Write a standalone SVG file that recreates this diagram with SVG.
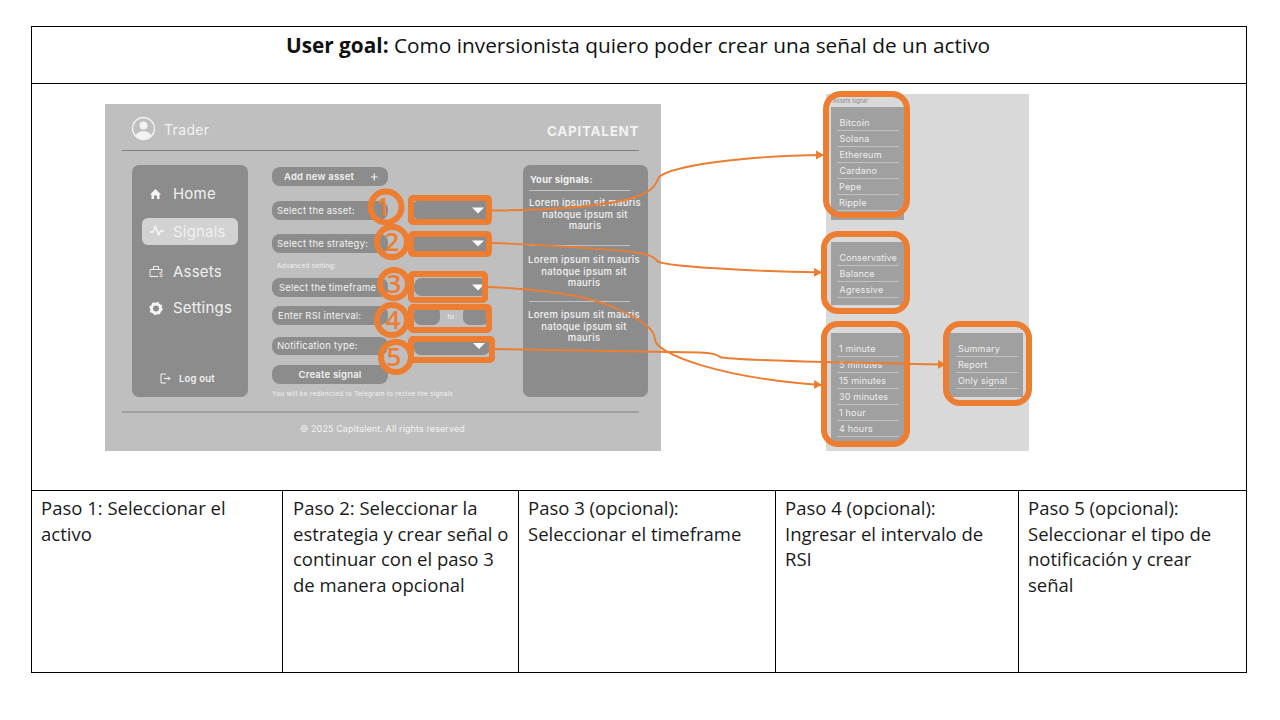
<svg xmlns="http://www.w3.org/2000/svg" width="1280" height="720" viewBox="0 0 1280 720">
<defs>
<style>
.tb{font-family:"Open Sans","Noto Sans",sans-serif;font-size:18.500px;fill:#1a1a1a}
.ui{font-family:"Inter","Liberation Sans",sans-serif;fill:#f2f2f2;letter-spacing:.2px}
.s{font-size:9.5px}
.n{font-size:15px;fill:#f0f0f0;letter-spacing:.2px}
.b{font-weight:600}
.li{font-size:9px;fill:#eeeeee;letter-spacing:.2px}
.lo{font-size:9.5px;font-weight:500;text-anchor:middle;letter-spacing:.3px}
.g{fill:#8c8c8c}
.gl{fill:#a0a0a0}
.ln{stroke:#c2c2c2;stroke-width:1;fill:none}
.hl{fill:none;stroke:#ed7d31;stroke-width:6}
.num{font-family:"Open Sans",sans-serif;font-size:26px;font-weight:600;fill:#ed7d31;text-anchor:middle}
.con{fill:none;stroke:#ed7d31;stroke-width:1.900}
.grid{stroke:#000;stroke-width:1;fill:none}
</style>
<marker id="ah" markerUnits="userSpaceOnUse" markerWidth="9" markerHeight="10" refX="7" refY="5" orient="auto"><path d="M0 0.500L8 5L0 9.500Z" fill="#ed7d31"/></marker>
</defs>
<rect width="1280" height="720" fill="#fff"/>

<g id="table">
<path class="grid" d="M31 26.500H1247M31 83.500H1247M31 490.500H1247M31 672.500H1247M31.500 26V673M1246.500 26V673M282.500 490V673M518.500 490V673M775.500 490V673M1018.500 490V673"/>
<text x="638" y="53" text-anchor="middle" style="font-family:'Open Sans','Noto Sans',sans-serif;font-size:20.800px;fill:#111"><tspan font-weight="700">User goal:</tspan> Como inversionista quiero poder crear una señal de un activo</text>
<text class="tb" x="41" y="515">Paso 1: Seleccionar el</text><text class="tb" x="41" y="541">activo</text>
<text class="tb" x="293" y="515">Paso 2: Seleccionar la</text><text class="tb" x="293" y="541">estrategia y crear señal o</text><text class="tb" x="293" y="566">continuar con el paso 3</text><text class="tb" x="293" y="592">de manera opcional</text>
<text class="tb" x="528" y="515">Paso 3 (opcional):</text><text class="tb" x="528" y="541">Seleccionar el timeframe</text>
<text class="tb" x="785" y="515">Paso 4 (opcional):</text><text class="tb" x="785" y="541">Ingresar el intervalo de</text><text class="tb" x="785" y="566">RSI</text>
<text class="tb" x="1028" y="515">Paso 5 (opcional):</text><text class="tb" x="1028" y="541">Seleccionar el tipo de</text><text class="tb" x="1028" y="566">notificación y crear</text><text class="tb" x="1028" y="592">señal</text>
</g>

<g id="app-screen">
<rect x="105" y="104" width="556" height="347" fill="#bfbfbf"/>
<path d="M122 150.500H639M122 412H639" stroke="#808080" stroke-width="1"/>
<circle cx="143.500" cy="128.500" r="11" fill="none" stroke="#f2f2f2" stroke-width="1.300"/>
<circle cx="143.500" cy="125.500" r="4" fill="#f2f2f2"/><path d="M135.500 136a8.500 7 0 0 1 16 0a11 11 0 0 1-16 0Z" fill="#f2f2f2"/>
<text class="ui" x="164" y="135" font-size="14" fill="#eaeaea" style="letter-spacing:.35px">Trader</text>
<text class="ui" x="547" y="136" font-size="13.500" style="font-weight:700;letter-spacing:.7px">CAPITALENT</text>

<rect class="g" x="132" y="165" width="116" height="232" rx="7"/>
<rect x="142" y="218" width="96" height="27" rx="6" fill="#d2d2d2"/>
<path d="M150 194.500L155.500 189L161 194.500H159.500V199H157V195.500H154V199H151.500V194.500Z" fill="#f5f5f5"/>
<path d="M150 232H153L155.500 226.500L158.500 235L160.500 231H164" fill="none" stroke="#f5f5f5" stroke-width="1.500"/>
<path d="M158 276.500H150V269.500H162V272M153.500 269.500V266.500H158.500V269.500" fill="none" stroke="#eeeeee" stroke-width="1"/>
<text class="ui" x="159" y="277" font-size="6">$</text>
<circle cx="156" cy="308.500" r="4.500" fill="none" stroke="#f5f5f5" stroke-width="3"/>
<circle cx="156" cy="308.500" r="6" fill="none" stroke="#f5f5f5" stroke-width="1.500" stroke-dasharray="2 2.700"/>
<text class="ui n" x="173" y="199">Home</text><text class="ui n" x="173" y="237" fill="#fff">Signals</text><text class="ui n" x="173" y="276.500">Assets</text><text class="ui n" x="173" y="313">Settings</text>
<path d="M166 374H161V383H166M164 378.500H170M168 376.500L170 378.500L168 380.500" fill="none" stroke="#f5f5f5" stroke-width="1"/>
<text class="ui s b" x="179" y="382">Log out</text>

<rect class="g" x="272" y="167" width="116" height="19" rx="8"/>
<text class="ui s b" x="284" y="180">Add new asset</text><path d="M371 177H377.500M374.250 173.500V180.500" stroke="#f2f2f2" stroke-width="1.200"/>
<rect class="g" x="272" y="201" width="116" height="19" rx="8"/><text class="ui s" x="277" y="213.500">Select the asset:</text>
<rect class="g" x="272" y="234" width="116" height="19" rx="8"/><text class="ui s" x="277" y="246.500">Select the strategy:</text>
<text class="ui" x="277" y="268" font-size="6.500">Advanced setting:</text>
<rect class="g" x="272" y="278" width="116" height="19" rx="8"/><text class="ui s" x="279" y="291">Select the timeframe</text>
<rect class="g" x="272" y="306" width="116" height="19" rx="8"/><text class="ui s" x="278" y="319">Enter RSI interval:</text>
<rect class="g" x="272" y="337" width="116" height="18" rx="8"/><text class="ui s" x="277" y="349">Notification type:</text>
<rect class="g" x="272" y="365" width="116" height="19" rx="8"/><text class="ui s b" x="330" y="378" text-anchor="middle">Create signal</text>
<text class="ui" x="272" y="396" font-size="6.500" style="letter-spacing:.24px">You will be redirected to Telegram to recive the signals</text>

<rect class="g" x="414" y="201" width="74" height="18" rx="3"/><path d="M472 207.500H484L478 213.500Z" fill="#fff"/>
<rect class="g" x="414" y="234" width="74" height="18" rx="3"/><path d="M472 240.500H484L478 246.500Z" fill="#fff"/>
<rect class="g" x="414" y="278" width="74" height="18" rx="8"/><path d="M472 284.500H484L478 290.500Z" fill="#fff"/>
<rect class="g" x="414" y="306" width="26" height="19" rx="7"/><rect class="g" x="463" y="306" width="26" height="19" rx="7"/>
<text class="ui" x="451" y="319" font-size="7" text-anchor="middle">to</text>
<rect class="g" x="414" y="337" width="76" height="18" rx="7"/><path d="M473 343H485L479 349Z" fill="#fff"/>

<rect class="g" x="523" y="165" width="125" height="232" rx="7"/>
<text class="ui s" x="530" y="183" style="font-weight:700">Your signals:</text>
<path class="ln" d="M529 190.500H630M529 245.500H630M529 301.500H630"/>
<text class="ui lo" x="585" y="206">Lorem ipsum sit mauris</text><text class="ui lo" x="585" y="217.500">natoque ipsum sit</text><text class="ui lo" x="585" y="229">mauris</text>
<text class="ui lo" x="584" y="263">Lorem ipsum sit mauris</text><text class="ui lo" x="584" y="274.500">natoque ipsum sit</text><text class="ui lo" x="584" y="286">mauris</text>
<text class="ui lo" x="584" y="318">Lorem ipsum sit mauris</text><text class="ui lo" x="584" y="329.500">natoque ipsum sit</text><text class="ui lo" x="584" y="341">mauris</text>
<text class="ui" x="382.500" y="432" font-size="9" text-anchor="middle" fill="#eeeeee" style="letter-spacing:.1px">© 2025 Capitalent. All rights reserved</text>
</g>

<g id="dropdown-panel">
<rect x="826" y="94" width="203" height="357" fill="#d9d9d9"/>
<text x="833" y="102.500" font-size="5.500" fill="#8c8c8c" style="font-family:Inter,sans-serif">Assets signal</text>
<rect class="gl" x="831" y="107" width="73" height="113"/>
<rect class="gl" x="831" y="242" width="73" height="63"/>
<rect class="gl" x="831" y="333" width="73" height="109"/>
<rect class="gl" x="949" y="333" width="74" height="64"/>
<path class="ln" d="M837 130.500H899M837 146.500H899M837 162.500H899M837 178.500H899M837 194.500H899M837 210.500H899M837 265.500H899M837 281.500H899M837 297.500H899M837 356.500H899M837 372.500H899M837 388.500H899M837 404.500H899M837 420.500H899M837 436.500H899M956 356.500H1018M956 372.500H1018M956 388.500H1018"/>
<text class="ui li" x="839.500" y="126">Bitcoin</text><text class="ui li" x="839.500" y="142">Solana</text><text class="ui li" x="839.500" y="158">Ethereum</text><text class="ui li" x="839.500" y="174">Cardano</text><text class="ui li" x="839" y="190">Pepe</text><text class="ui li" x="839" y="206">Ripple</text>
<text class="ui li" x="839.500" y="261" style="letter-spacing:.1px">Conservative</text><text class="ui li" x="839.500" y="277">Balance</text><text class="ui li" x="839.500" y="293">Agressive</text>
<text class="ui li" x="839" y="351.500">1 minute</text><text class="ui li" x="839" y="367.500">5 minutes</text><text class="ui li" x="839" y="383.500">15 minutes</text><text class="ui li" x="839" y="399.500">30 minutes</text><text class="ui li" x="839" y="415.500">1 hour</text><text class="ui li" x="839" y="431.500">4 hours</text>
<text class="ui li" x="958" y="351.500">Summary</text><text class="ui li" x="958" y="367.500">Report</text><text class="ui li" x="958" y="383.500">Only signal</text>
</g>

<g id="step-1"><circle class="hl" cx="386" cy="207" r="15.500"/><text class="num" x="383" y="216">1</text><rect class="hl" x="411" y="198" width="78" height="24" rx="2"/></g>
<g id="step-2"><circle class="hl" cx="392" cy="242" r="15"/><text class="num" x="392" y="251">2</text><rect class="hl" x="411" y="234" width="78" height="20" rx="2"/></g>
<g id="step-3"><circle class="hl" cx="394" cy="284" r="14"/><text class="num" x="394" y="293">3</text><rect class="hl" x="411" y="274" width="74" height="26" rx="2"/></g>
<g id="step-4"><circle class="hl" cx="392" cy="320" r="15"/><text class="num" x="393" y="329">4</text><rect class="hl" x="411" y="307" width="78" height="23" rx="2"/></g>
<g id="step-5"><circle class="hl" cx="396" cy="357" r="15"/><text class="num" x="394" y="366">5</text><rect class="hl" x="411" y="339" width="81" height="21" rx="2"/></g>
<g id="list-assets"><rect class="hl" x="826" y="94" width="81" height="121" rx="15"/></g>
<g id="list-strategy"><rect class="hl" x="824" y="234" width="83" height="77" rx="14"/></g>
<g id="list-timeframe"><rect class="hl" x="824" y="324" width="83" height="120" rx="14"/></g>
<g id="list-notification"><rect class="hl" x="946" y="324" width="83" height="79" rx="14"/></g>

<g id="connectors">
<path class="con" marker-end="url(#ah)" d="M492 210.500C560 210 630 205 650 190C656 186 657 181 659 177C672 166 740 156 823 155"/>
<path class="con" marker-end="url(#ah)" d="M492 243C550 245 620 250 640 253C650 255 655 257 657 261C662 266 740 271 821 272.500"/>
<path class="con" marker-end="url(#ah)" d="M488 287C540 289 590 295 620 310C645 322 655 330 655 340C657 354 720 378 821 385"/>
<path class="con" marker-end="url(#ah)" d="M495 349L700 352.500C715 353 718 355 720 357C726 359 800 362 945 364.500"/>
</g>
</svg>
